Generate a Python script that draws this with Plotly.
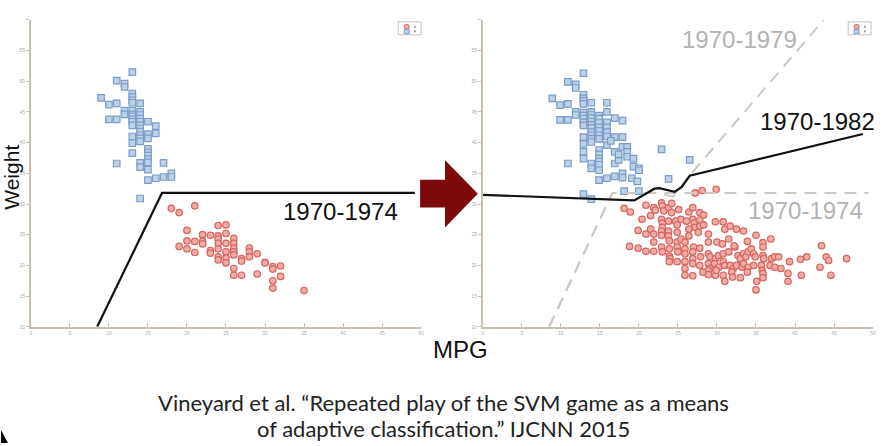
import plotly.graph_objects as go

W, H = 888, 446

# ---------------- data (MPG, Weight/100) ----------------
left_blue_mpg = [13, 11, 12, 12, 9, 10, 11, 13, 13, 13, 13, 14, 12, 12, 13, 13, 13, 13, 13, 13,
                 14, 14, 14, 14, 14, 14, 14, 14, 14, 14, 10, 11, 15, 16, 15, 15, 16, 13, 13, 13,
                 11, 14, 14, 15, 15, 15, 15, 15, 15, 15, 16, 17, 17, 18, 18, 14]
left_blue_wt = [51.5, 50.1, 49.6, 49.1, 47.3, 46.2, 46.4, 48.0, 47.4, 46.9, 46.5, 46.4, 45.2, 44.6,
                45.2, 44.6, 44.3, 43.8, 43.4, 42.8, 45.0, 44.5, 43.9, 43.4, 42.8, 42.3, 41.8, 41.2,
                40.7, 40.2, 43.8, 43.8, 43.4, 42.7, 41.4, 40.7, 41.5, 41.0, 39.9, 38.3, 36.6, 36.7,
                36.0, 39.0, 38.4, 37.9, 37.3, 36.8, 35.6, 33.9, 34.2, 36.7, 34.4, 35.0, 34.4, 30.9]

left_red_mpg = [18, 19, 21, 20, 19, 20, 20, 21, 21, 22, 22, 22, 23, 23, 23, 24, 24, 24, 24, 24, 24,
                24, 25, 25, 25, 25, 25, 25, 26, 26, 26, 26, 26, 26, 26, 27, 27, 27, 28, 28, 28, 29,
                29, 30, 30, 31, 31, 31, 31, 32, 32, 35]
left_red_wt = [29.3, 28.6, 29.7, 25.7, 23.1, 24.0, 22.7, 23.9, 22.1, 25.0, 23.9, 23.5, 24.9, 22.4,
               22.0, 26.5, 24.8, 24.3, 23.6, 22.7, 21.4, 20.9, 26.6, 25.2, 23.6, 22.2, 21.2, 20.4,
               24.4, 23.6, 22.8, 22.2, 21.7, 19.5, 18.4, 21.1, 20.7, 18.4, 22.8, 22.2, 21.4, 21.9,
               18.6, 20.5, 20.4, 19.8, 19.4, 17.5, 16.3, 19.9, 18.2, 15.9]

right_blue_mpg = [12.9, 10.9, 11.9, 11.9, 8.9, 9.9, 10.9, 12.9, 12.9, 12.9, 12.9, 13.9, 11.9, 11.9,
                  12.9, 12.9, 12.9, 12.9, 12.9, 13.9, 13.9, 13.9, 13.9, 13.9, 13.9, 13.9, 13.9,
                  13.9, 13.9, 9.9, 10.9, 14.9, 14.9, 14.9, 14.9, 14.9, 14.9, 14.9, 15.9, 15.9, 15.9,
                  15.9, 15.9, 15.9, 15.9, 16.9, 16.9, 16.9, 17.9, 17.9, 17.9, 12.9, 12.9, 12.9, 12.9,
                  10.9, 13.9, 13.9, 14.9, 14.9, 14.9, 14.9, 14.9, 14.9, 14.9, 15.9, 16.9, 16.9, 17.9,
                  17.9, 17.4, 18.5, 18.5, 18.5, 19.3, 19.3, 20.0, 20.0, 19.1, 19.8, 18.1, 20.0, 22.9,
                  23.8, 26.5, 12.9, 13.9, 17.4, 16.4]
right_blue_wt = [51.3, 49.9, 49.5, 48.9, 47.2, 46.1, 46.3, 47.8, 47.2, 46.8, 46.3, 46.5, 45.0, 44.5,
                 44.9, 44.4, 43.9, 43.3, 42.8, 45.0, 44.5, 44.0, 43.4, 42.9, 42.4, 41.7, 41.2, 40.6,
                 40.1, 43.7, 43.7, 44.4, 43.9, 43.2, 42.5, 41.9, 41.2, 40.6, 46.5, 45.0, 43.3, 42.5,
                 41.7, 41.0, 39.6, 44.0, 40.9, 38.5, 43.6, 40.9, 39.3, 40.9, 39.8, 38.5, 37.4, 36.6,
                 36.6, 35.8, 38.8, 38.1, 37.4, 36.9, 36.4, 35.5, 33.9, 34.2, 36.6, 34.5, 35.0, 34.3,
                 37.2, 39.3, 38.5, 37.7, 37.4, 36.1, 35.8, 35.5, 34.2, 33.7, 32.1, 32.1, 38.9, 34.1,
                 37.2, 31.6, 30.8, 38.1, 40.3]

right_red_mpg = [27.2, 28.1, 29.9, 18.1, 18.9, 20.9, 21.9, 22.1, 22.9, 23.0, 23.2, 23.8, 24.2, 24.2,
                 25.1, 26.4, 26.9, 27.8, 28.3,
                 20.4, 21.5, 22.9, 23.0, 23.0, 23.8, 24.7, 24.9, 25.4, 26.1, 26.4, 26.9, 27.1, 27.2,
                 27.8, 27.8, 28.3, 28.9, 29.8, 30.8, 31.0, 31.7, 32.5, 33.4,
                 19.9, 20.9, 21.5, 21.9, 22.9, 22.9, 23.8, 23.8, 23.9, 24.9, 24.9, 25.4, 25.9, 26.4,
                 27.0, 27.6, 28.9, 30.0, 30.7, 31.5, 32.3, 33.9, 35.0, 35.9, 36.9,
                 18.8, 19.9, 20.9, 21.9, 21.9, 22.9, 23.0, 23.9, 23.9, 24.0, 24.9, 25.0, 25.9, 25.9,
                 26.9, 26.9, 27.8, 27.9, 28.9, 29.1, 29.8, 30.2, 30.8, 31.5, 32.2, 32.7, 33.0, 33.4,
                 33.7, 34.0, 34.4, 34.7, 34.9, 35.9, 35.9, 36.0, 37.0, 37.4, 37.9, 39.3, 40.7, 41.5,
                 43.4, 44.0, 44.3, 46.6,
                 23.9, 24.9, 25.9, 26.9, 27.8, 28.9, 29.1, 29.7, 30.2, 30.8, 31.0, 31.7, 32.1, 32.5,
                 33.2, 33.4, 34.0, 34.7, 35.7, 35.8, 36.8, 37.4, 38.2, 39.1, 40.8, 43.2, 44.6,
                 25.9, 25.9, 26.9, 28.9, 28.9, 29.8, 30.8, 31.0, 31.9, 32.0, 33.0, 33.9, 35.1, 35.0,
                 35.9, 35.9, 39.1, 29.9, 28.2]
right_red_wt = [31.8, 32.2, 32.4, 29.3, 28.7, 29.8, 29.4, 29.0, 30.2, 29.7, 28.9, 29.4, 30.1, 28.6,
                29.1, 28.7, 29.4, 28.6, 28.2,
                27.5, 28.1, 27.5, 26.9, 26.2, 27.2, 27.2, 26.6, 27.5, 27.2, 25.9, 27.5, 26.9, 26.2,
                27.4, 26.4, 26.6, 25.1, 27.1, 27.1, 25.9, 26.4, 25.9, 25.6,
                25.7, 25.1, 25.9, 25.1, 25.6, 24.9, 25.6, 24.8, 24.0, 25.4, 23.8, 24.3, 23.8, 24.8,
                23.0, 25.4, 23.8, 23.8, 23.5, 24.3, 23.0, 23.9, 24.9, 23.7, 24.3,
                23.1, 22.8, 22.3, 23.8, 22.3, 23.0, 22.2, 22.7, 21.5, 21.1, 23.0, 22.2, 22.7, 21.9,
                22.2, 21.1, 22.8, 21.4, 21.9, 21.4, 21.1, 21.6, 21.9, 22.2, 23.2, 21.6, 21.1, 21.9,
                21.4, 22.2, 22.7, 21.9, 21.4, 23.0, 21.6, 21.1, 21.1, 21.4, 21.4, 20.6, 21.0, 21.4,
                23.2, 21.4, 20.8, 21.1,
                20.6, 20.6, 20.6, 20.3, 20.0, 20.3, 19.5, 20.3, 19.7, 20.6, 20.0, 20.0, 19.5, 20.0,
                19.7, 20.3, 19.7, 20.0, 20.0, 19.2, 20.0, 19.7, 19.5, 18.7, 18.4, 19.7, 18.4,
                19.5, 18.4, 18.3, 19.2, 18.5, 18.4, 18.4, 17.4, 18.9, 18.1, 18.0, 18.9, 17.4, 16.0,
                18.7, 18.0, 17.4, 19.2, 18.9]

# decision boundaries
b1974_mpg = [8.5, 16.8, 49.2]
b1974_wt = [10, 31.8, 31.8]
b1982_mpg = [0, 19.4, 22.0, 22.6, 24.6, 25.5, 26.5, 48.7]
b1982_wt = [31.5, 30.6, 32.5, 32.6, 32.0, 32.8, 34.6, 41.4]
g1974_mpg = [8.5, 16.6, 49.4]
g1974_wt = [10, 31.8, 31.8]
g1979_mpg = [8.5, 16.6, 22.3, 24.4, 26.4, 43.7]
g1979_wt = [10, 31.8, 31.8, 31.2, 34.5, 60]

x_ticks = list(range(0, 51, 5))
y_ticks = list(range(10, 61, 5))
y_ticktext = [str(v) for v in y_ticks[:-1]] + [""]

# ---------------- styles ----------------
BLUE_FILL, BLUE_LINE = "#bcd0e8", "#7b9cc8"
RED_FILL, RED_LINE = "#f2aca6", "#d6665f"
GRAY = "#cdc8c0"
AXC = "#cbbfb1"

def px(x):
    return x / W

def py(y):
    return 1 - y / H

fig = go.Figure()

def scatter(xs, ys, sym, fill, line, xa, ya):
    fig.add_trace(go.Scatter(x=xs, y=ys, mode="markers", xaxis=xa, yaxis=ya,
                             marker=dict(symbol=sym, size=6.5, color=fill,
                                         line=dict(color=line, width=1.2)),
                             showlegend=False, hoverinfo="skip"))

def line(xs, ys, color, dash, width, xa, ya):
    fig.add_trace(go.Scatter(x=xs, y=ys, mode="lines", xaxis=xa, yaxis=ya,
                             line=dict(color=color, dash=dash, width=width),
                             showlegend=False, hoverinfo="skip"))

scatter(left_blue_mpg, left_blue_wt, "square", BLUE_FILL, BLUE_LINE, "x", "y")
scatter(left_red_mpg, left_red_wt, "circle", RED_FILL, RED_LINE, "x", "y")
line(b1974_mpg, b1974_wt, "#111111", "solid", 2.2, "x", "y")

scatter(right_blue_mpg, right_blue_wt, "square", BLUE_FILL, BLUE_LINE, "x2", "y2")
scatter(right_red_mpg, right_red_wt, "circle", RED_FILL, RED_LINE, "x2", "y2")
line(g1974_mpg, g1974_wt, GRAY, "12px,8px", 2, "x2", "y2")
line(g1979_mpg, g1979_wt, GRAY, "12px,8px", 2, "x2", "y2")
line(b1982_mpg, b1982_wt, "#111111", "solid", 2.2, "x2", "y2")

xax = dict(range=[0, 50], showline=True, linecolor=AXC, linewidth=1.5, showgrid=False,
           zeroline=False, ticks="inside", ticklen=4, tickcolor=AXC, tickvals=x_ticks,
           tickfont=dict(size=5, color="#aaaaaa", family="Liberation Sans"), fixedrange=True)
yax = dict(range=[10, 60], showline=True, linecolor=AXC, linewidth=1.5, showgrid=False,
           zeroline=False, ticks="outside", ticklen=3, tickcolor=AXC, tickvals=y_ticks,
           ticktext=y_ticktext,
           tickfont=dict(size=5, color="#aaaaaa", family="Liberation Sans"), fixedrange=True)

ybot, ytop = py(329), py(20)
fig.update_layout(
    width=W, height=H, margin=dict(l=0, r=0, t=0, b=0),
    paper_bgcolor="white", plot_bgcolor="white",
    xaxis=dict(xax, domain=[px(30), px(422)], anchor="y"),
    yaxis=dict(yax, domain=[ybot, ytop], anchor="x"),
    xaxis2=dict(xax, domain=[px(484), px(876)], anchor="y2"),
    yaxis2=dict(yax, domain=[ybot, ytop], anchor="x2"),
)

shapes = []
# arrow
shapes.append(dict(type="path", xref="paper", yref="paper",
                   path=f"M {px(421)} {py(181)} L {px(446)} {py(181)} L {px(446)} {py(161)} "
                        f"L {px(479)} {py(195)} L {px(446)} {py(229)} L {px(446)} {py(209)} "
                        f"L {px(421)} {py(209)} Z",
                   fillcolor="#7d0a0a", line=dict(width=0)))
# small legend boxes
for lx in (399, 851):
    shapes.append(dict(type="rect", xref="paper", yref="paper",
                       x0=px(lx), x1=px(lx + 23), y0=py(35), y1=py(22),
                       line=dict(color="#c9bfb6", width=1), fillcolor="white"))
    shapes.append(dict(type="circle", xref="paper", yref="paper",
                       x0=px(lx + 6), x1=px(lx + 11), y0=py(29.5), y1=py(24.5),
                       line=dict(color=RED_LINE, width=1), fillcolor=RED_FILL))
    shapes.append(dict(type="rect", xref="paper", yref="paper",
                       x0=px(lx + 6), x1=px(lx + 11), y0=py(34), y1=py(29.5),
                       line=dict(color=BLUE_LINE, width=1), fillcolor=BLUE_FILL))
    for yy in (27, 31.5):
        shapes.append(dict(type="rect", xref="paper", yref="paper",
                           x0=px(lx + 16), x1=px(lx + 17.5), y0=py(yy + 1), y1=py(yy - 1),
                           line=dict(width=0), fillcolor="#888888"))
# black corner shape bottom-left
shapes.append(dict(type="path", xref="paper", yref="paper",
                   path=f"M {px(0)} {py(433)} L {px(7)} {py(446)} L {px(0)} {py(446)} Z",
                   fillcolor="black", line=dict(width=0)))
fig.update_layout(shapes=shapes)

ann = []
def text(t, x, y, size, color, family="Liberation Sans", angle=0):
    ann.append(dict(text=t, xref="paper", yref="paper", x=px(x), y=py(y),
                    xanchor="center", yanchor="middle", showarrow=False, textangle=angle,
                    font=dict(size=size, color=color, family=family)))

text("1970-1974", 341, 213, 24, "#111111")
text("1970-1979", 742, 40, 24, "#b3b3b3")
text("1970-1982", 820, 122, 24, "#111111")
text("1970-1974", 808, 212, 24, "#b3b3b3")
text("MPG", 462, 352, 24, "#111111")
text("Weight", 11, 178, 21, "#111111", angle=-90)
text("Vineyard et al. “Repeated play of the SVM game as a means", 444, 405, 22, "#222222", "Lato")
text("of adaptive classification.” IJCNN 2015", 444, 431, 22, "#222222", "Lato")
fig.update_layout(annotations=ann)

fig.write_html("out.html")
